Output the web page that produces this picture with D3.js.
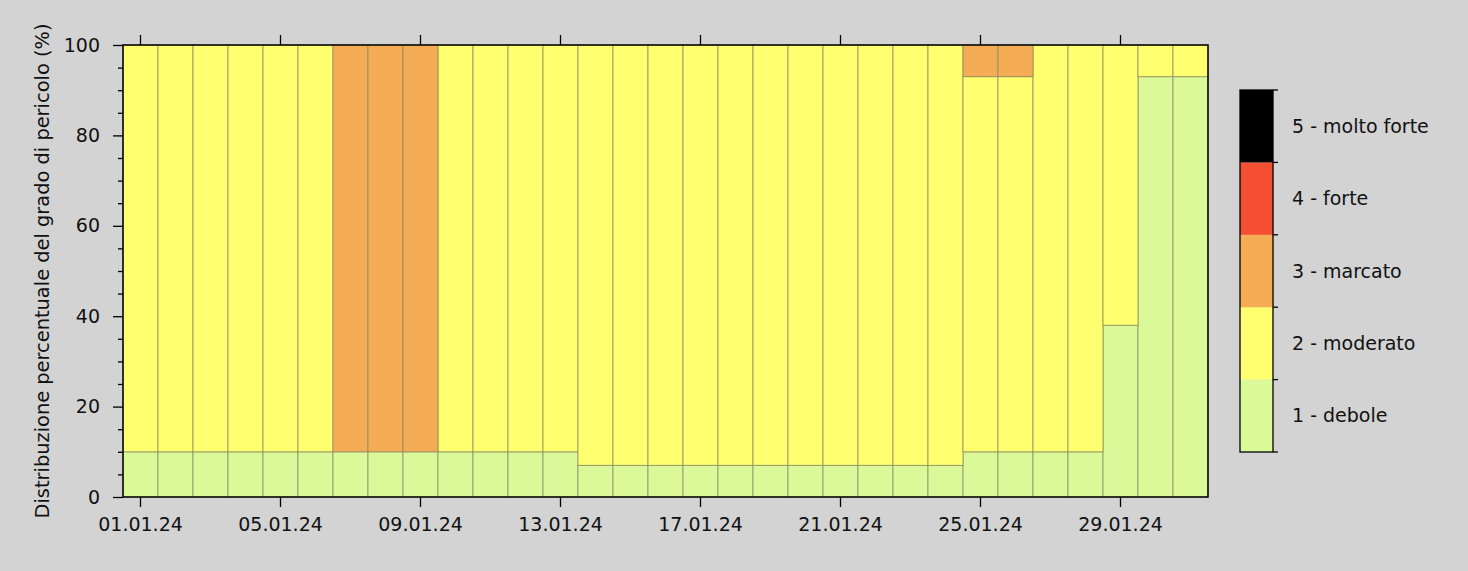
<!DOCTYPE html>
<html>
<head>
<meta charset="utf-8">
<script src="https://cdn.jsdelivr.net/npm/d3@7"></script>
<style>
  body { margin: 0; background: #d3d3d3; }
  svg text { font-family: "DejaVu Sans", sans-serif; fill: #111; }
</style>
</head>
<body>
<script>
// giorni di gennaio 2024
var days = d3.range(1, 32).map(function(d) { return (d < 10 ? "0" : "") + d + ".01.24"; });

// distribuzione percentuale per grado di pericolo
var debole =   [10,10,10,10,10,10,10,10,10,10,10,10,10, 7, 7, 7, 7, 7, 7, 7, 7, 7, 7, 7,10,10,10,10,38,93,93];
var moderato = [90,90,90,90,90,90, 0, 0, 0,90,90,90,90,93,93,93,93,93,93,93,93,93,93,93,83,83,90,90,62, 7, 7];
var marcato =  [ 0, 0, 0, 0, 0, 0,90,90,90, 0, 0, 0, 0, 0, 0, 0, 0, 0, 0, 0, 0, 0, 0, 0, 7, 7, 0, 0, 0, 0, 0];
var forte =    [ 0, 0, 0, 0, 0, 0, 0, 0, 0, 0, 0, 0, 0, 0, 0, 0, 0, 0, 0, 0, 0, 0, 0, 0, 0, 0, 0, 0, 0, 0, 0];
var moltoForte=[ 0, 0, 0, 0, 0, 0, 0, 0, 0, 0, 0, 0, 0, 0, 0, 0, 0, 0, 0, 0, 0, 0, 0, 0, 0, 0, 0, 0, 0, 0, 0];

var levels = ["1 - debole", "2 - moderato", "3 - marcato", "4 - forte", "5 - molto forte"];
var yTicks = [0, 20, 40, 60, 80, 100];
var xTickDays = ["01.01.24", "05.01.24", "09.01.24", "13.01.24", "17.01.24", "21.01.24", "25.01.24", "29.01.24"];

var colors = ["#dcf99a", "#ffff6f", "#f5ad55", "#f44f33", "#000000"];

var width = 1468, height = 571;
var margin = { left: 123, right: 260, top: 45, bottom: 74 };

var rows = days.map(function(d, i) {
  return { day: d, l1: debole[i], l2: moderato[i], l3: marcato[i], l4: forte[i], l5: moltoForte[i] };
});
var keys = ["l1", "l2", "l3", "l4", "l5"];

var svg = d3.select("body").append("svg")
  .attr("width", width)
  .attr("height", height);

var x = d3.scaleBand()
  .domain(days)
  .range([margin.left, width - margin.right])
  .padding(0);

var y = d3.scaleLinear()
  .domain([0, 100])
  .range([height - margin.bottom, margin.top]);

var stack = d3.stack().keys(keys)(rows);

/*
 * Stacked bars.
 */
svg.append("g").selectAll("g")
  .data(stack)
  .enter().append("g")
  .attr("fill", function(d, i) { return colors[i]; })
  .selectAll("rect")
  .data(function(d) { return d.filter(function(p) { return p[1] - p[0] > 0; }); })
  .enter().append("rect")
  .attr("x", function(d) { return x(d.data.day); })
  .attr("y", function(d) { return y(d[1]); })
  .attr("width", x.bandwidth())
  .attr("height", function(d) { return y(d[0]) - y(d[1]); })
  .attr("stroke", "#8a8a60")
  .attr("stroke-opacity", 0.75)
  .attr("stroke-width", 1);

/*
 * Axes.
 */
var x0 = margin.left, x1 = width - margin.right;
var y0 = height - margin.bottom, y1 = margin.top;

svg.append("g")
  .attr("transform", "translate(" + x0 + ",0)")
  .call(d3.axisLeft(y).tickValues(yTicks).tickSize(10).tickPadding(13));
svg.append("g")
  .attr("transform", "translate(" + x0 + ",0)")
  .call(d3.axisLeft(y).tickValues(d3.range(0, 101, 5).filter(function(v) { return v % 20; }))
    .tickSize(5).tickFormat(""));

svg.append("g")
  .attr("transform", "translate(0," + y0 + ")")
  .call(d3.axisBottom(x).tickValues(xTickDays).tickSize(10).tickPadding(11));
svg.append("g")
  .attr("transform", "translate(0," + y1 + ")")
  .call(d3.axisTop(x).tickValues(xTickDays).tickSize(10).tickFormat(""));

svg.selectAll(".domain").remove();
svg.selectAll(".tick line").attr("stroke", "#000").attr("stroke-width", 1.3);
svg.selectAll(".tick text").style("font-size", "19px").attr("fill", "#111");

// frame
svg.append("rect")
  .attr("x", x0).attr("y", y1)
  .attr("width", x1 - x0).attr("height", y0 - y1)
  .attr("fill", "none").attr("stroke", "#000").attr("stroke-width", 1.5);

svg.append("text")
  .attr("transform", "translate(49," + ((y0 + y1) / 2) + ") rotate(-90)")
  .attr("text-anchor", "middle")
  .style("font-size", "19.4px")
  .text("Distribuzione percentuale del grado di pericolo (%)");

/*
 * Colour bar legend.
 */
var cb = { x: 1240, w: 33, top: 90, bottom: 452 };
var cy = d3.scaleBand()
  .domain(levels.slice().reverse())
  .range([cb.top, cb.bottom])
  .padding(0);

var legend = svg.append("g");
legend.selectAll("rect")
  .data(levels)
  .enter().append("rect")
  .attr("x", cb.x)
  .attr("y", function(d) { return cy(d); })
  .attr("width", cb.w)
  .attr("height", cy.bandwidth())
  .attr("fill", function(d, i) { return colors[i]; });

legend.append("rect")
  .attr("x", cb.x).attr("y", cb.top)
  .attr("width", cb.w).attr("height", cb.bottom - cb.top)
  .attr("fill", "none").attr("stroke", "#000").attr("stroke-width", 1.3);

var bounds = levels.map(function(d) { return cy(d); }).concat([cb.bottom]);
legend.selectAll("line")
  .data(bounds)
  .enter().append("line")
  .attr("x1", cb.x + cb.w).attr("x2", cb.x + cb.w + 5)
  .attr("y1", function(d) { return d; }).attr("y2", function(d) { return d; })
  .attr("stroke", "#000").attr("stroke-width", 1.3);

legend.selectAll("text")
  .data(levels)
  .enter().append("text")
  .attr("x", 1292)
  .attr("y", function(d) { return cy(d) + cy.bandwidth() / 2; })
  .attr("dy", "0.35em")
  .style("font-size", "19px")
  .text(function(d) { return d; });
</script>
</body>
</html>
